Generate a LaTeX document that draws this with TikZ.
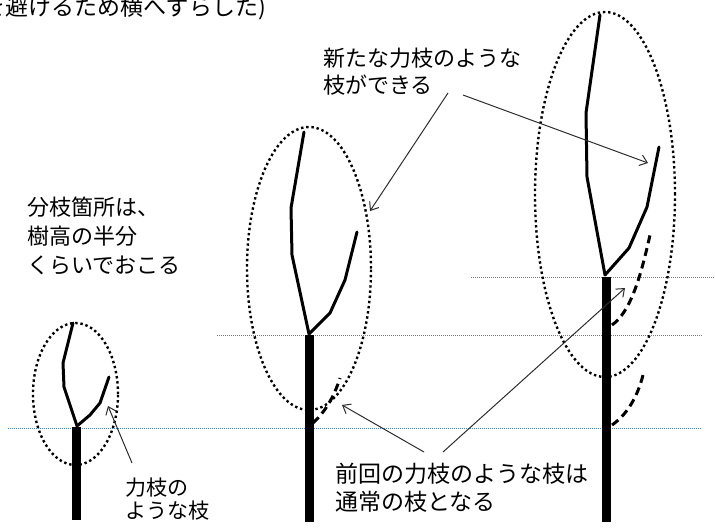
\documentclass[tikz,border=0pt]{standalone}
\usepackage{fontspec}
\setmainfont{Noto Sans CJK JP}
\usetikzlibrary{arrows.meta, shapes.geometric, positioning}
\definecolor{levelblue}{RGB}{80,130,210}
\definecolor{pointergray}{RGB}{45,45,45}
\tikzset{
  x=1pt, y=-1pt,
  trunk/.style={line width=9pt}, % main stem below the fork
  branch/.style={line width=3pt, line join=round, line cap=round}, % leader and new scaffold branch
  oldbranch/.style={line width=3pt, dash pattern=on 8pt off 5pt}, % former scaffold branch
  crown/.style={ellipse, draw, inner sep=0pt, line width=2.4pt, dash pattern=on 2.4pt off 2.8pt}, % dotted outline of the crown
  level/.style={draw=levelblue, line width=0.9pt, dash pattern=on 0.9pt off 1.1pt}, % height of the fork
  note/.style={font=\fontsize{22}{27}\selectfont, align=left, anchor=west, inner sep=0pt},
  pointer/.style={draw=pointergray, line width=1pt, -{Straight Barb[length=7pt,width=11pt]}},
}

\begin{document}
\begin{tikzpicture}
\useasboundingbox (0,0) rectangle (715,530);

% fork heights
\draw[level] (8,428) -- (702,428);
\draw[level] (217,335) -- (702,335);
\draw[level] (471,277) -- (720,277);

% crowns
\node[crown, minimum width=85pt, minimum height=142pt] (crown1) at (75.5,394) {};
\node[crown, minimum width=124pt, minimum height=283pt] (crown2) at (309,268.5) {};
\node[crown, minimum width=140pt, minimum height=365pt] (crown3) at (605,194.5) {};

% young tree
\coordinate (fork1) at (77,426);
\draw[trunk] (76.5,427) -- (76.5,520);
\draw[branch] (fork1) -- (64,387) -- (63,363) -- (73,323);
\draw[branch] (fork1) -- (90,415) -- (100,403) -- (109,377);

% second stage
\coordinate (fork2) at (309,334);
\draw[trunk] (309.5,335) -- (309.5,522);
\draw[branch] (fork2) -- (292,255) -- (291,208) -- (304,132);
\draw[branch] (fork2) -- (330,313) -- (345,280) -- (357,232);
\draw[oldbranch] (313,423) .. controls (325,412) and (334,397) .. (340,378);

% third stage
\coordinate (fork3) at (605,275);
\draw[trunk] (606,277) -- (606,522);
\draw[branch] (fork3) -- (587,177) -- (586,113) -- (600,15);
\draw[branch] (fork3) -- (629,248) -- (647,207) -- (659,147);
\draw[oldbranch] (612,325) .. controls (630,312) and (640,280) .. (650,235);
\draw[oldbranch] (612,425) .. controls (628,414) and (638,395) .. (643,375);

% texts
\node[note, anchor=base west, font=\fontsize{23}{27}\selectfont] (shifted) at (-18,15) {を避けるため横へずらした)};
\node[note] (forknote) at (27,236) {分枝箇所は、\\[2pt]樹高の半分\\[2pt]くらいでおこる};
\node[note, font=\fontsize{21}{23}\selectfont] (youngnote) at (125,499) {力枝の\\ような枝};
\node[note] (newnote) at (323,71.5) {新たな力枝のような\\枝ができる};
\node[note, font=\fontsize{23}{28}\selectfont] (oldnote) at (335,488) {前回の力枝のような枝は\\通常の枝となる};

% pointers
\coordinate (youngfrom) at (132,463);
\coordinate (youngto) at (108,406);
\coordinate (newfromA) at (448,93);
\coordinate (newtoA) at (370,211);
\coordinate (newfromB) at (463,95);
\coordinate (newtoB) at (648,163);
\coordinate (oldfromA) at (424,452);
\coordinate (oldtoA) at (342,405);
\coordinate (oldfromB) at (443,452);
\coordinate (oldtoB) at (625,288);

\draw[pointer] (youngfrom) -- (youngto);
\draw[pointer] (newfromA) -- (newtoA);
\draw[pointer] (newfromB) -- (newtoB);
\draw[pointer] (oldfromA) -- (oldtoA);
\draw[pointer] (oldfromB) -- (oldtoB);
\end{tikzpicture}
\end{document}
